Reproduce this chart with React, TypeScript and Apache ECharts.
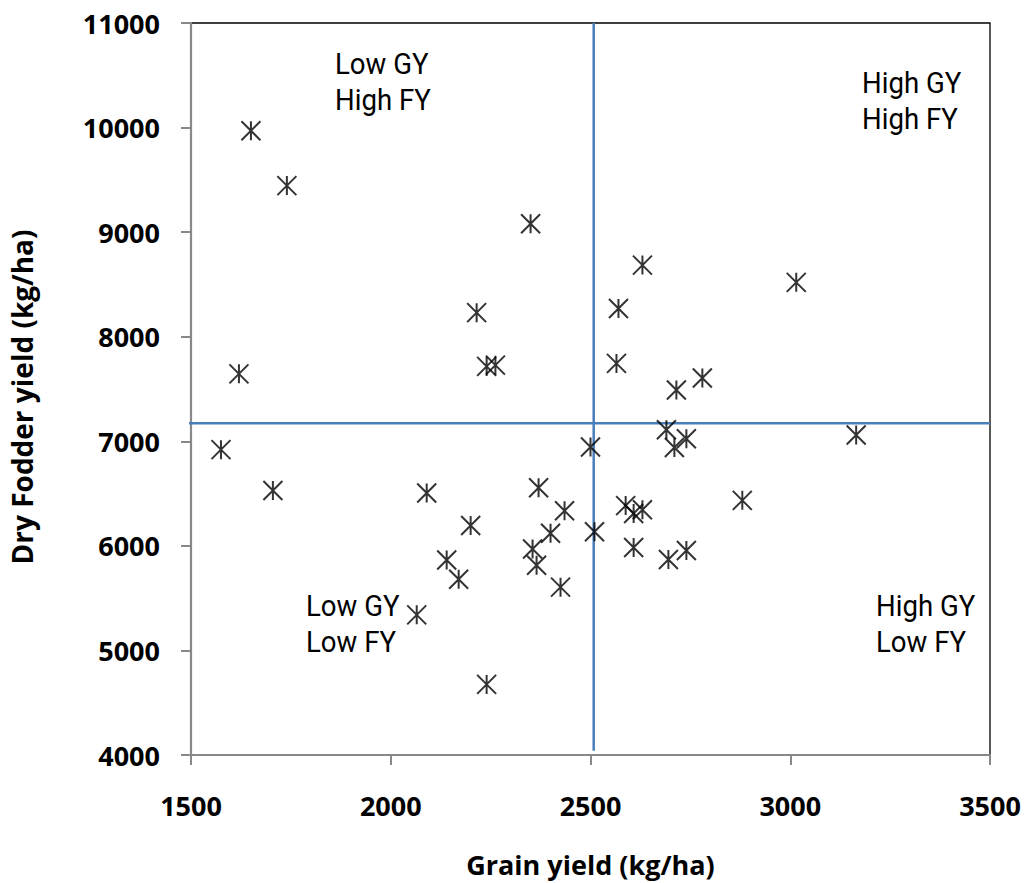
import React, { useEffect, useRef } from "react";
import * as echarts from "echarts";

// Grain yield (kg/ha) and dry fodder yield (kg/ha) for each genotype
const grainYield = [
  1650, 1740, 2350, 2215, 2240, 2262, 1620, 2630, 3015, 2570,
  2565, 2780, 2715, 1575, 1705, 2090, 2370, 2435, 2200, 2400,
  2355, 2365, 2140, 2170, 2425, 2065, 2240, 2500, 2510, 2690,
  2710, 2740, 3165, 2588, 2608, 2630, 2880, 2608, 2695, 2740,
];
const fodderYield = [
  9970, 9445, 9080, 8230, 7716, 7728, 7645, 8685, 8520, 8270,
  7745, 7605, 7490, 6920, 6530, 6505, 6555, 6335, 6195, 6120,
  5970, 5815, 5865, 5680, 5605, 5340, 4675, 6945, 6135, 7110,
  6940, 7025, 7060, 6385, 6310, 6345, 6435, 5985, 5870, 5955,
];

// Mean lines separating the quadrants
const meanGrainYield = 2508;
const meanFodderYield = 7173;
const verticalLineYRange = [11000, 4040];
const horizontalLineXRange = [1470, 3500];

const xAxisRange = { min: 1500, max: 3500, interval: 500 };
const yAxisRange = { min: 4000, max: 11000, interval: 1000 };

const quadrantLabels = [
  { text: "Low GY\nHigh FY", left: 335, top: 45 },
  { text: "High GY\nHigh FY", left: 862, top: 64 },
  { text: "Low GY\nLow FY", left: 306, top: 587 },
  { text: "High GY\nLow FY", left: 876, top: 587 },
];

const boldFont = "'Open Sans', 'DejaVu Sans', sans-serif";
const narrowFont = "'Liberation Sans Narrow', 'Roboto', 'Liberation Sans', sans-serif";
const blue = "#4A7EBB";
const axisGray = "#888888";

export default function App() {
  const ref = useRef<HTMLDivElement>(null);

  useEffect(() => {
    if (!ref.current) return;
    const chart = echarts.init(ref.current, undefined, { renderer: "svg" });
    const points = grainYield.map((g, i) => [g, fodderYield[i]]);

    chart.setOption({
      animation: false,
      backgroundColor: "#ffffff",
      grid: {
        left: 190,
        right: 34,
        top: 23,
        bottom: 106,
        show: true,
        borderColor: "#000000",
        borderWidth: 1.3,
        backgroundColor: "transparent",
      },
      xAxis: {
        type: "value",
        min: xAxisRange.min,
        max: xAxisRange.max,
        interval: xAxisRange.interval,
        name: "Grain yield (kg/ha)",
        nameLocation: "middle",
        nameGap: 96,
        nameTextStyle: { fontFamily: boldFont, fontWeight: "bold", fontSize: 27, color: "#000" },
        axisLine: { show: true, onZero: false, lineStyle: { color: axisGray, width: 2.2 } },
        axisTick: { show: true, length: 10, lineStyle: { color: axisGray, width: 2 } },
        axisLabel: {
          fontFamily: boldFont,
          fontWeight: "bold",
          fontSize: 27,
          color: "#000",
          margin: 37,
          formatter: (v: number) => String(v),
        },
        splitLine: { show: false },
      },
      yAxis: {
        type: "value",
        min: yAxisRange.min,
        max: yAxisRange.max,
        interval: yAxisRange.interval,
        name: "Dry Fodder yield (kg/ha)",
        nameLocation: "middle",
        nameGap: 155,
        nameRotate: 90,
        nameTextStyle: {
          fontFamily: boldFont,
          fontWeight: "bold",
          fontSize: 28,
          color: "#000",
          padding: [0, 16, 0, 0],
        },
        axisLine: { show: true, onZero: false, lineStyle: { color: axisGray, width: 2.2 } },
        axisTick: { show: true, length: 10, lineStyle: { color: axisGray, width: 2 } },
        axisLabel: {
          fontFamily: boldFont,
          fontWeight: "bold",
          fontSize: 27,
          color: "#000",
          margin: 31,
          formatter: (v: number) => String(v),
        },
        splitLine: { show: false },
      },
      series: [
        {
          type: "line",
          data: [
            [meanGrainYield, verticalLineYRange[0]],
            [meanGrainYield, verticalLineYRange[1]],
          ],
          symbol: "none",
          clip: false,
          lineStyle: { color: blue, width: 2.5 },
          silent: true,
          z: 1,
        },
        {
          type: "line",
          data: [
            [horizontalLineXRange[0], meanFodderYield],
            [horizontalLineXRange[1], meanFodderYield],
          ],
          symbol: "none",
          clip: false,
          lineStyle: { color: blue, width: 2.5 },
          silent: true,
          z: 1,
        },
        {
          type: "scatter",
          data: points,
          symbol: "path://M0,0L20,20M20,0L0,20M10,0L10,20",
          symbolSize: 19,
          itemStyle: { color: "transparent", borderColor: "#000000", borderWidth: 2 },
          z: 3,
        },
      ],
      graphic: quadrantLabels.map((q) => ({
        type: "text",
        left: q.left,
        top: q.top,
        scaleX: 0.92,
        silent: true,
        style: {
          text: q.text,
          fontFamily: narrowFont,
          fontSize: 30,
          lineHeight: 36.5,
          fill: "#000",
          align: "left",
        },
      })),
    });

    return () => chart.dispose();
  }, []);

  return (
    <div
      ref={ref}
      style={{ position: "fixed", left: 0, top: 0, width: 1024, height: 883 }}
    />
  );
}
